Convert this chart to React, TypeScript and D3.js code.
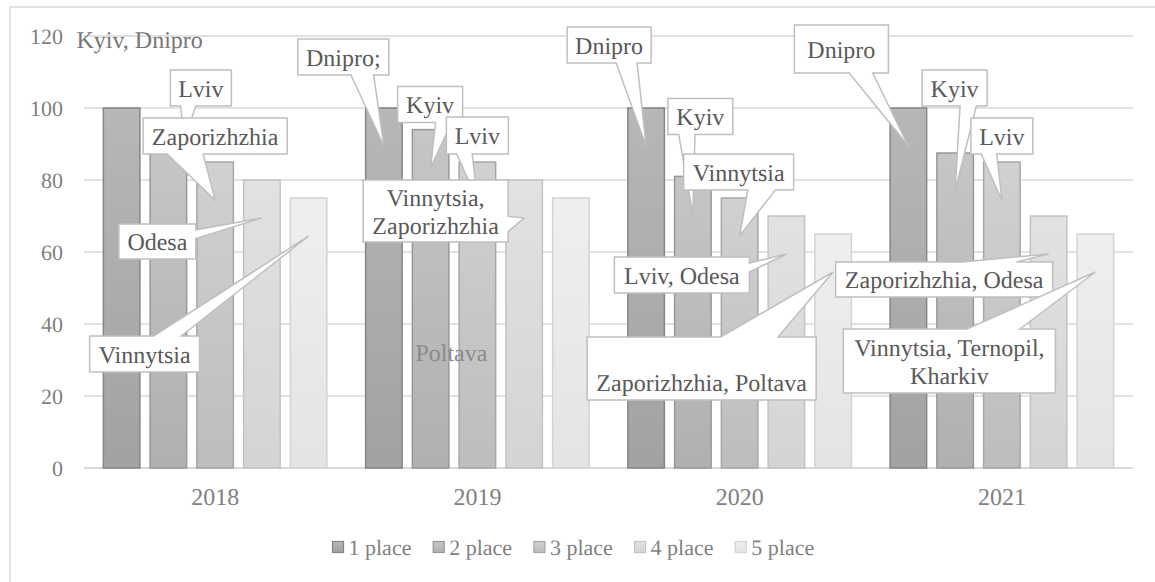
import React from "react";
import * as d3 from "d3";

// chart data
const years = ["2018", "2019", "2020", "2021"];
const seriesNames = ["1 place", "2 place", "3 place", "4 place", "5 place"];
const place1 = [100, 100, 100, 100];
const place2 = [90, 94, 81, 87.5];
const place3 = [85, 85, 75, 85];
const place4 = [80, 80, 70, 70];
const place5 = [75, 75, 65, 65];
const yTicks = [0, 20, 40, 60, 80, 100, 120];

// city labels per place
const labels1 = ["Kyiv, Dnipro", "Dnipro;", "Dnipro", "Dnipro"];
const labels2 = ["Lviv", "Kyiv", "Kyiv", "Kyiv"];
const labels3 = ["Zaporizhzhia", "Lviv", "Vinnytsia", "Lviv"];
const labels4 = ["Odesa", "Vinnytsia,\nZaporizhzhia", "Lviv, Odesa", "Zaporizhzhia, Odesa"];
const labels5 = ["Vinnytsia", "Poltava", "\nZaporizhzhia, Poltava", "Vinnytsia, Ternopil,\nKharkiv"];

const seriesValues = [place1, place2, place3, place4, place5];
const seriesLabels = [labels1, labels2, labels3, labels4, labels5];

// callout box placement, relative to the top centre of its bar
type Callout = { dx: number; dy: number; w: number; h: number; plain?: boolean; tip?: [number, number] };
const calloutLayout: Callout[][] = [
  [
    { dx: -50, dy: -86, w: 136, h: 34, plain: true },
    { dx: -86, dy: -69, w: 91, h: 36 },
    { dx: -79, dy: -81, w: 84, h: 36 },
    { dx: -114, dy: -83, w: 94, h: 48 },
  ],
  [
    { dx: 2, dy: -74, w: 61, h: 36, tip: [16, -4] },
    { dx: -33, dy: -43, w: 65, h: 36 },
    { dx: -25, dy: -78, w: 65, h: 36 },
    { dx: -33, dy: -83, w: 65, h: 36 },
  ],
  [
    { dx: -72, dy: -44, w: 144, h: 36 },
    { dx: -31, dy: -45, w: 62, h: 37 },
    { dx: -56, dy: -44, w: 110, h: 36 },
    { dx: -31, dy: -44, w: 62, h: 36 },
  ],
  [
    { dx: -143, dy: 44, w: 77, h: 35 },
    { dx: -161, dy: 0, w: 145, h: 62 },
    { dx: -172, dy: 41, w: 135, h: 36 },
    { dx: -213, dy: 46, w: 217, h: 35 },
  ],
  [
    { dx: -219, dy: 138, w: 110, h: 36 },
    { dx: -160, dy: 136, w: 81, h: 36, plain: true },
    { dx: -246, dy: 103, w: 229, h: 63 },
    { dx: -252, dy: 95, w: 212, h: 64 },
  ],
];

const fillTop = ["#b7b7b7", "#c6c6c6", "#d1d1d1", "#e2e2e2", "#efefef"];
const fillBottom = ["#a2a2a2", "#b0b0b0", "#bdbdbd", "#d4d4d4", "#e4e4e4"];
const strokes = ["#858585", "#989898", "#a7a7a7", "#c3c3c3", "#d3d3d3"];

const W = 1155;
const H = 582;
const plot = { left: 84, right: 1133, top: 36, bottom: 468 };
const font = "'Times New Roman', 'Liberation Serif', serif";

// Excel style wedgeRectCallout outline
function wedgePath(l: number, t: number, w: number, h: number, px: number, py: number) {
  const r = l + w;
  const b = t + h;
  const dx = px - (l + w / 2);
  const dy = py - (t + h / 2);
  const dz = Math.abs(dy) - Math.abs((dx * h) / w);
  const x1 = l + (w * (dx > 0 ? 7 : 2)) / 12;
  const x2 = l + (w * (dx > 0 ? 10 : 5)) / 12;
  const y1 = t + (h * (dy > 0 ? 7 : 2)) / 12;
  const y2 = t + (h * (dy > 0 ? 10 : 5)) / 12;
  const tip = `L${px},${py}`;
  let d = `M${l},${t}L${x1},${t}`;
  if (dz > 0 && dy < 0) d += tip;
  d += `L${x2},${t}L${r},${t}L${r},${y1}`;
  if (dz <= 0 && dx > 0) d += tip;
  d += `L${r},${y2}L${r},${b}L${x2},${b}`;
  if (dz > 0 && dy > 0) d += tip;
  d += `L${x1},${b}L${l},${b}L${l},${y2}`;
  if (dz <= 0 && dx < 0) d += tip;
  return d + `L${l},${y1}Z`;
}

export default function App() {
  const x0 = d3
    .scaleBand()
    .domain(years)
    .range([plot.left, plot.right])
    .paddingInner(0.142)
    .paddingOuter(0.071);
  const x1 = d3
    .scaleBand()
    .domain(seriesNames)
    .range([0, x0.bandwidth()])
    .paddingInner(0.187);
  const y = d3.scaleLinear().domain([0, 120]).range([plot.bottom, plot.top]);

  const barX = (s: number, c: number) => (x0(years[c]) || 0) + (x1(seriesNames[s]) || 0);

  return (
    <svg
      width={W}
      height={H}
      style={{ position: "absolute", left: 0, top: 0, background: "#fff", fontFamily: font }}
      textRendering="geometricPrecision"
    >
      <defs>
        {seriesNames.map((n, s) => (
          <linearGradient key={n} id={`g${s}`} x1="0" y1="0" x2="0" y2="1">
            <stop offset="0" stopColor={fillTop[s]} />
            <stop offset="1" stopColor={fillBottom[s]} />
          </linearGradient>
        ))}
      </defs>

      <rect x={10} y={7} width={1160} height={600} fill="#fff" stroke="#d9d9d9" strokeWidth={1.5} />

      {yTicks.map((t) => (
        <g key={t}>
          <line
            x1={plot.left}
            x2={plot.right}
            y1={y(t)}
            y2={y(t)}
            stroke="#d9d9d9"
            strokeWidth={t === 0 ? 2 : 1.5}
          />
          <text x={63} y={y(t) + 7.5} textAnchor="end" fontSize={22} fill="#7f7f7f">
            {t}
          </text>
        </g>
      ))}

      {years.map((yr) => (
        <text key={yr} x={(x0(yr) || 0) + x0.bandwidth() / 2} y={505} textAnchor="middle" fontSize={24} fill="#7f7f7f">
          {yr}
        </text>
      ))}

      {seriesValues.map((vals, s) =>
        vals.map((v, c) => (
          <rect
            key={`${s}-${c}`}
            x={barX(s, c) + 0.75}
            y={y(v)}
            width={x1.bandwidth() - 1.5}
            height={y(0) - y(v)}
            fill={`url(#g${s})`}
            stroke={strokes[s]}
            strokeWidth={1.5}
          />
        ))
      )}

      {seriesLabels.map((labs, s) =>
        labs.map((lab, c) => {
          const lay = calloutLayout[s][c];
          const cx = barX(s, c) + x1.bandwidth() / 2;
          const top = y(seriesValues[s][c]);
          const bx = cx + lay.dx;
          const by = top + lay.dy;
          const tip = lay.tip || [0, 38];
          const lines = lab.split("\n");
          const mid = by + lay.h / 2;
          return (
            <g key={`l${s}-${c}`}>
              {!lay.plain && (
                <path
                  d={wedgePath(bx, by, lay.w, lay.h, cx + tip[0], top + tip[1])}
                  fill="#fff"
                  stroke="#bfbfbf"
                  strokeWidth={1.5}
                />
              )}
              {lines.map((ln, i) => (
                <text
                  key={i}
                  x={bx + lay.w / 2}
                  y={mid + (i - (lines.length - 1) / 2) * 28 + 8.5}
                  textAnchor="middle"
                  fontSize={24}
                  fontWeight={400}
                  fill={lay.plain ? (s === 0 ? "#767676" : "#8a8a8a") : "#595959"}
                >
                  {ln}
                </text>
              ))}
            </g>
          );
        })
      )}

      {seriesNames.map((n, s) => (
        <g key={n} transform={`translate(${332 + s * 100.7},0)`}>
          <rect x={0.5} y={541.5} width={11} height={11} fill={`url(#g${s})`} stroke={strokes[s]} strokeWidth={1.2} />
          <text x={16.5} y={555} fontSize={22} fill="#7f7f7f">
            {n}
          </text>
        </g>
      ))}
    </svg>
  );
}
